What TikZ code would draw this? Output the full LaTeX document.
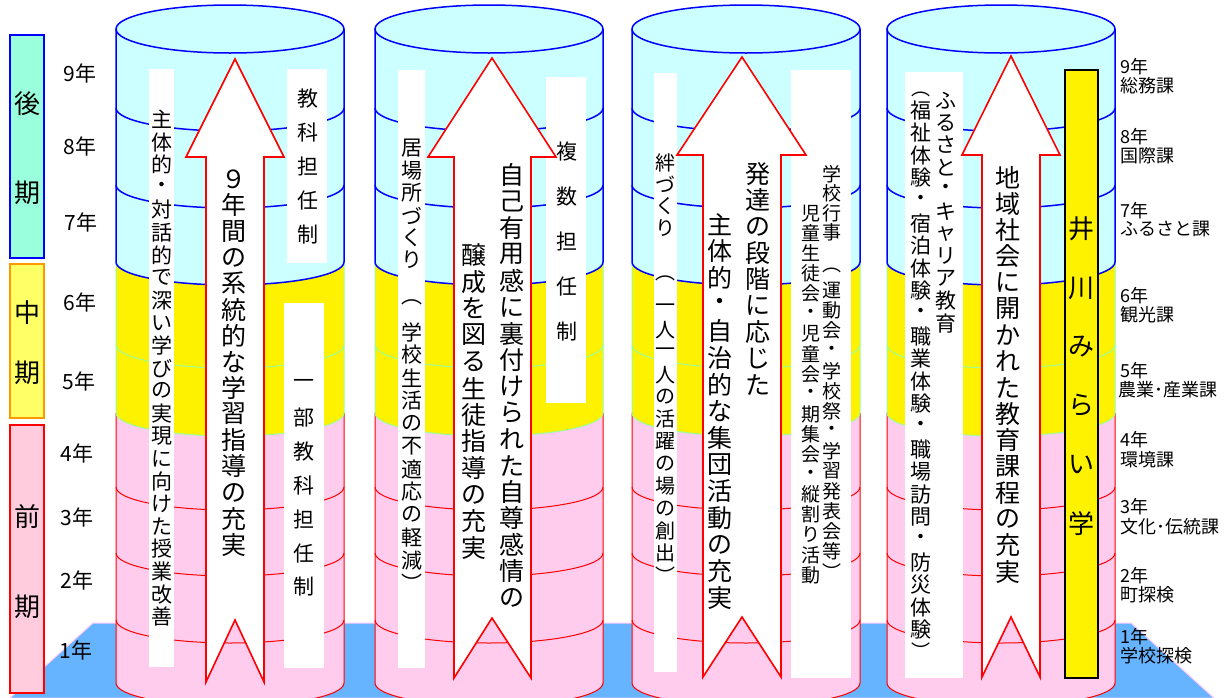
\documentclass[tikz,border=0pt]{standalone}
\usepackage{fontspec}
\setmainfont{Noto Sans CJK JP}
\definecolor{cyl}{HTML}{CCFFFF}
\definecolor{pinkf}{HTML}{FFCCEE}
\definecolor{floorb}{HTML}{66B3FF}
\definecolor{floorp}{HTML}{FFCCFF}
\definecolor{greenl}{HTML}{99FF99}
\definecolor{aquam}{HTML}{99FFDD}
\definecolor{lyel}{HTML}{FFFF66}
\definecolor{orng}{HTML}{FF9900}
\definecolor{lpink}{HTML}{FFCCDD}
\newdimen\vtpitch
\def\vtendmark{vtendmark}
\newcommand\vt[2]{\vbox{\offinterlineskip\vtpitch=#1\relax\vtloop#2\vtendmark}}
\def\vtloop#1{\ifx#1\vtendmark\else\vtcell{#1}\expandafter\vtloop\fi}
\def\vtcell#1{\hbox to 0pt{\hss\vbox to\vtpitch{\vss\hbox{#1}\vss}\hss}}
\newcommand\fs[1]{\fontsize{#1}{#1}\selectfont}
\tikzset{
  vtx/.style={inner sep=0pt, anchor=north},
  lbl/.style={inner sep=0pt, font=\fs{21}},
  rlbl/.style={inner sep=0pt, anchor=west, font=\fs{18}},
  perlbl/.style={inner sep=0pt, font=\fs{26}},
  arrowsty/.style={draw=red, fill=white, line width=1.6pt, line join=miter},
  blueln/.style={draw=blue, line width=1.5pt},
  greenln/.style={draw=greenl, line width=1pt},
  redln/.style={draw=red, line width=1pt},
  wbox/.style={fill=white},
  ar/.style={x radius=114pt, y radius=23pt}
}
\begin{document}
\begin{tikzpicture}[x=1pt,y=1pt]
\useasboundingbox (0,0) rectangle (1227,-697);
\clip (0,0) rectangle (1227,-697);
% floor
\filldraw[fill=floorb, draw=floorp, line width=1pt] (93,-623) -- (1131,-623) -- (1214,-698) -- (10,-698) -- cycle;
% period boxes
\filldraw[fill=aquam, draw=blue, line width=1.5pt] (10,-35) rectangle (44,-258);
\filldraw[fill=lyel, draw=orng, line width=1.5pt] (10,-264) rectangle (44,-418);
\filldraw[fill=lpink, draw=red, line width=1.5pt] (10,-425) rectangle (44,-693);
\node[perlbl] (p1) at (27,-104) {後};
\node[perlbl] (p2) at (27,-193) {期};
\node[perlbl] (p3) at (27,-313) {中};
\node[perlbl] (p4) at (27,-373) {期};
\node[perlbl] (p5) at (27,-517) {前};
\node[perlbl] (p6) at (27,-607) {期};
% year labels
\node[lbl] (y9) at (80,-73) {9年};
\node[lbl] (y8) at (80,-146) {8年};
\node[lbl] (y7) at (81,-222) {7年};
\node[lbl] (y6) at (80,-302) {6年};
\node[lbl] (y5) at (79,-381) {5年};
\node[lbl] (y4) at (77,-453) {4年};
\node[lbl] (y3) at (77,-517) {3年};
\node[lbl] (y2) at (77,-580) {2年};
\node[lbl] (y1) at (76,-650) {1年};
% cylinders
\foreach \c in {230,489,746,1001}{
  \fill[pinkf] ({\c-114},-413) -- ({\c-114},-683) arc[start angle=180,end angle=360,ar] -- ({\c+114},-413) arc[start angle=0,end angle=-180,ar] -- cycle;
  \fill[yellow] ({\c-114},-262) -- ({\c-114},-413) arc[start angle=180,end angle=360,ar] -- ({\c+114},-262) arc[start angle=0,end angle=-180,ar] -- cycle;
  \fill[cyl] ({\c-114},-29) -- ({\c-114},-262) arc[start angle=180,end angle=360,ar] -- ({\c+114},-29) arc[start angle=0,end angle=180,ar] -- cycle;
  \draw[redln] ({\c-114},-413) -- ({\c-114},-683) arc[start angle=180,end angle=360,ar] -- ({\c+114},-413);
  \draw[redln] ({\c-114},-487) arc[start angle=180,end angle=360,ar];
  \draw[redln] ({\c-114},-553) arc[start angle=180,end angle=360,ar];
  \draw[redln] ({\c-114},-620) arc[start angle=180,end angle=360,ar];
  \draw[greenln] ({\c-114},-262) -- ({\c-114},-413) arc[start angle=180,end angle=360,ar] -- ({\c+114},-262);
  \draw[greenln] ({\c-114},-345) arc[start angle=180,end angle=360,ar];
  \draw[blueln] ({\c-114},-29) -- ({\c-114},-262) arc[start angle=180,end angle=360,ar] -- ({\c+114},-29);
  \draw[blueln] ({\c-114},-108) arc[start angle=180,end angle=360,ar];
  \draw[blueln] ({\c-114},-185) arc[start angle=180,end angle=360,ar];
  \filldraw[fill=cyl, draw=blue, line width=1.5pt] (\c,-29) ellipse[x radius=114pt, y radius=24pt];
}
% ---- cylinder 1
\fill[wbox] (149,-69) rectangle (174,-667);
\node[vtx,font=\fs{21}] (t1a) at (162,-108) {\vt{22.6pt}{主体的・対話的で深い学びの実現に向けた授業改善}};
\fill[wbox] (287,-69) rectangle (327,-263);
\node[vtx,font=\fs{21}] (t1b) at (308,-81) {\vt{34pt}{教科担任制}};
\fill[wbox] (284,-303) rectangle (324,-668);
\node[vtx,font=\fs{21}] (t1c) at (304,-367) {\vt{33.8pt}{一部教科担任制}};
\draw[arrowsty] (235,-59) -- (284,-157) -- (264,-157) -- (264,-682) -- (235,-620) -- (206,-682) -- (206,-157) -- (186,-157) -- cycle;
\node[vtx,font=\fs{25}] (a1) at (234,-166) {\vt{26.1pt}{９年間の系統的な学習指導の充実}};
% ---- cylinder 2
\fill[wbox] (398,-70) rectangle (425,-668);
\node[vtx,font=\fs{21}] (t2a) at (412,-136.8) {\vt{22.4pt}{居場所づくり}};
\node[inner sep=0pt,font=\fs{21}] (t2p) at (412,-302) {︵};
\node[vtx,font=\fs{21}] (t2b) at (412,-320.6) {\vt{22.8pt}{学校生活の不適応の軽減︶}};
\fill[wbox] (546,-77) rectangle (586,-403);
\node[vtx,font=\fs{21}] (t2c) at (567,-128.5) {\vt{45pt}{複数担任制}};
\draw[arrowsty] (492,-58) -- (556,-157) -- (531,-157) -- (531,-678) -- (492,-618) -- (454,-678) -- (454,-157) -- (428,-157) -- cycle;
\node[vtx,font=\fs{25}] (a2r) at (512,-161.8) {\vt{26.4pt}{自己有用感に裏付けられた自尊感情の}};
\node[vtx,font=\fs{25}] (a2l) at (473.5,-241.7) {\vt{26.6pt}{醸成を図る生徒指導の充実}};
% ---- cylinder 3
\fill[wbox] (654,-73) rectangle (677,-672);
\node[vtx,font=\fs{20}] (t3a) at (665,-152) {\vt{21.7pt}{絆づくり}};
\node[inner sep=0pt,font=\fs{20}] (t3p) at (665,-278) {︵};
\node[vtx,font=\fs{20}] (t3b) at (665,-296.5) {\vt{22.3pt}{一人一人の活躍の場の創出︶}};
\fill[wbox] (791,-70) rectangle (851,-678);
\node[vtx,font=\fs{19}] (t3c) at (832,-164) {\vt{19.5pt}{学校行事}};
\node[vtx,font=\fs{19}] (t3d) at (832,-260) {\vt{20.1pt}{︵運動会・学校祭・学習発表会等︶}};
\node[vtx,font=\fs{19}] (t3e) at (811,-203) {\vt{20.1pt}{児童生徒会・児童会・期集会・縦割り活動}};
\draw[arrowsty] (742,-57) -- (806,-155) -- (781,-155) -- (781,-677) -- (742,-617) -- (703,-677) -- (703,-155) -- (677,-155) -- cycle;
\node[vtx,font=\fs{25}] (a3r) at (758,-160.3) {\vt{26.4pt}{発達の段階に応じた}};
\node[vtx,font=\fs{25}] (a3l) at (720,-210.7) {\vt{26.7pt}{主体的・自治的な集団活動の充実}};
% ---- cylinder 4
\fill[wbox] (905,-72) rectangle (963,-678);
\node[vtx,font=\fs{21}] (t4a) at (946,-88.9) {\vt{22.3pt}{ふるさと・キャリア教育}};
\node[inner sep=0pt,font=\fs{19}] (t4p) at (921,-94) {︵};
\node[vtx,font=\fs{21}] (t4b) at (921,-98.7) {\vt{22.6pt}{福祉体験・宿泊体験・職業体験・職場訪問・防災体験}};
\node[inner sep=0pt,font=\fs{19}] (t4q) at (921,-651) {︶};
\draw[arrowsty] (1011,-56) -- (1060,-155) -- (1040,-155) -- (1040,-677) -- (1011,-617) -- (982,-677) -- (982,-155) -- (962,-155) -- cycle;
\node[vtx,font=\fs{25}] (a4) at (1008,-163.9) {\vt{26.3pt}{地域社会に開かれた教育課程の充実}};
\filldraw[fill=yellow, draw=black, line width=1.5pt] (1065,-70) rectangle (1098,-678);
\node[vtx,font=\fs{26}] (t4c) at (1081.5,-199.6) {\vt{58.8pt}{井川みらい学}};
% right labels
\node[rlbl] (r9a) at (1120,-67) {9年};
\node[rlbl] (r9b) at (1120,-86) {総務課};
\node[rlbl] (r8a) at (1120,-137) {8年};
\node[rlbl] (r8b) at (1120,-156) {国際課};
\node[rlbl] (r7a) at (1120,-211) {7年};
\node[rlbl] (r7b) at (1120,-229) {ふるさと課};
\node[rlbl] (r6a) at (1120,-296) {6年};
\node[rlbl] (r6b) at (1120,-315) {観光課};
\node[rlbl] (r5a) at (1120,-371) {5年};
\node[rlbl] (r5b) at (1118,-390) {農業･産業課};
\node[rlbl] (r4a) at (1120,-440) {4年};
\node[rlbl] (r4b) at (1120,-460) {環境課};
\node[rlbl] (r3a) at (1120,-507) {3年};
\node[rlbl] (r3b) at (1120,-527) {文化･伝統課};
\node[rlbl] (r2a) at (1120,-576) {2年};
\node[rlbl] (r2b) at (1120,-595) {町探検};
\node[rlbl] (r1a) at (1120,-637) {1年};
\node[rlbl] (r1b) at (1120,-656) {学校探検};
\end{tikzpicture}
\end{document}
